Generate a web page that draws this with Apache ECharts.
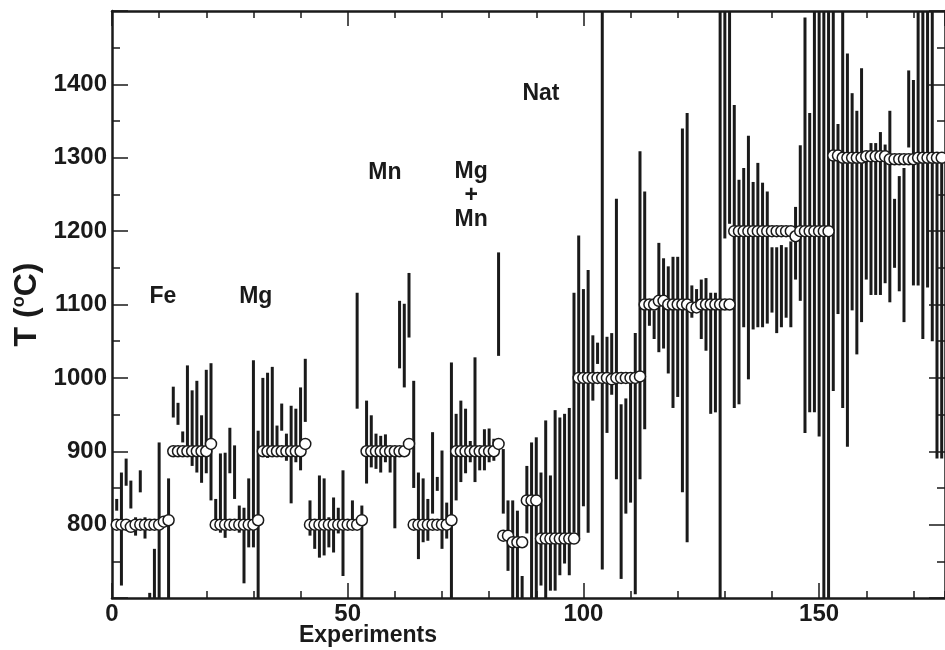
<!DOCTYPE html>
<html>
<head>
<meta charset="utf-8">
<script src="https://cdn.jsdelivr.net/npm/echarts@6/dist/echarts.min.js"></script>
<style>
  html, body { margin: 0; padding: 0; background: #fff; }
  #chart { width: 945px; height: 650px; }
</style>
</head>
<body>
<div id="chart"></div>
<script>
// experiment temperature (circles), one value per experiment 1..177
const measuredT = [
  800, 800, 800, 797, 800, 800, 800, 800, 800, 800, 804, 806,            // Fe 800
  900, 900, 900, 900, 900, 900, 900, 900, 910,                           // Fe 900
  800, 800, 800, 800, 800, 800, 800, 800, 800, 806,                      // Mg 800
  900, 900, 900, 900, 900, 900, 900, 900, 900, 910,                      // Mg 900
  800, 800, 800, 800, 800, 800, 800, 800, 800, 800, 800, 806,            // Mn 800
  900, 900, 900, 900, 900, 900, 900, 900, 900, 910,                      // Mn 900
  800, 800, 800, 800, 800, 800, 800, 800, 806,                           // Mg+Mn 800
  900, 900, 900, 900, 900, 900, 900, 900, 900, 910,                      // Mg+Mn 900
  785, 785, 776, 776, 776, 833, 833, 833,                                // Nat
  781, 781, 781, 781, 781, 781, 781, 781,
  1000, 1000, 1000, 1000, 1000, 1000, 1000, 998, 1000, 1000, 1000, 1000, 1000, 1002,
  1100, 1100, 1100, 1105, 1105, 1100, 1100, 1100, 1100, 1100,
  1096, 1096, 1100, 1100, 1100, 1100, 1100, 1100, 1100,
  1200, 1200, 1200, 1200, 1200, 1200, 1200, 1200, 1200, 1200, 1200,
  1200, 1200, 1193, 1200, 1200, 1200, 1200, 1200, 1200, 1200,
  1303, 1303, 1300, 1300, 1300, 1300, 1300, 1302, 1302, 1302, 1302, 1302,
  1298, 1298, 1298, 1298, 1298, 1298, 1300, 1300, 1300, 1300, 1300, 1300, 1300
];

// lower end of each vertical bar (null = no bar)
const lowT = [
  819, 717, 853, 822, 785, 844, 781, 690, 690, 690, null, 690,
  946, 936, 912, 894, 880, 871, 857, 870, 833,
  796, 789, 782, 870, 835, 789, 720, 769, 769, 690,
  897, 891, 898, 894, 928, 887, 829, 885, 874, 940,
  785, 767, 755, 758, 769, 762, 788, 730, null, 795, 958, 690,
  856, 878, 876, 871, 885, 871, 795, 1013, 987, 1055,
  850, 753, 776, 778, 815, 846, 767, 781, 690,
  833, 858, 870, 885, 858, 874, 874, 885, 887, 1030,
  815, 737, 690, 690, 690, 788, 690, 690,
  717, 690, 710, 710, 731, 747, 731, 789,
  778, 825, 789, 969, 1019, 739, 925, 977, 862, 726, 815, 830, 705, 862,
  930, 1071, 1053, 1035, 1040, 1006, 959, 974, 844, 776,
  1082, 1097, 1053, 1037, 951, 953, 690, 1190, 1210,
  959, 964, 1069, 998, 1066, 1069, 1069, 1074, 1089, 1061, 1069,
  1082, 1069, 1134, 1105, 925, 953, 953, 920, 690, 690,
  982, 1087, 959, 906, 1092, 1032, 1076, 1134, 1113, 1113, 1113, 1129,
  1103, 1150, 1118, 1076, 1314, 1126, 1126, 1053, 1123, 1050, 890, 890, 890
];

// upper end of each vertical bar
const highT = [
  835, 871, 890, 860, 810, 874, 810, 707, 767, 912, null, 863,
  988, 966, 927, 1017, 983, 996, 949, 1011, 1020,
  835, 897, 898, 932, 908, 826, 823, 863, 1024, 928,
  1000, 1007, 1015, 935, 965, 924, 962, 958, 987, 1026,
  833, 805, 867, 863, 810, 837, 823, 874, null, 833, 1116, 826,
  969, 949, 924, 921, 923, 905, 901, 1105, 1101, 1143,
  996, 871, 863, 835, 926, 865, 901, 830, 1021,
  951, 969, 958, 914, 1028, 901, 930, 931, 917, 1171,
  903, 833, 833, 819, 730, 880, 912, 919,
  871, 942, 867, 956, 946, 951, 959, 1116,
  1194, 1121, 1147, 1058, 1048, 1510, 1056, 1061, 1244, 964, 972, 1000, 1061, 1309,
  1254, 1097, 1092, 1184, 1163, 1152, 1165, 1165, 1340, 1361,
  1126, 1121, 1134, 1136, 1116, 1116, 1510, 1510, 1510,
  1372, 1270, 1286, 1330, 1267, 1293, 1266, 1254, 1178, 1178, 1181,
  1178, 1186, 1233, 1317, 1491, 1361, 1510, 1510, 1510, 1510,
  1510, 1346, 1510, 1442, 1388, 1364, 1422, 1306, 1320, 1320, 1335, 1318,
  1364, 1244, 1275, 1286, 1419, 1406, 1510, 1510, 1510, 1510, 1306, 1306, 1306
];

// composition labels written in the plot
const groupNames = ['Fe', 'Mg', 'Mn', 'Mg\n+\nMn', 'Nat'];
const groupX = [10.8, 30.5, 57.9, 76.2, 91];
const groupY = [1111, 1111, 1280, 1248, 1387];

const yTicks = { min: 700, max: 1500, step: 100 };
const xTicks = { min: 0, max: 176.7, step: 50, minorStep: 10 };

const FONT = '"Liberation Sans", Arial, Helvetica, sans-serif';
const INK = '#1a1a1a';

const experiments = measuredT.map((t, i) => i + 1);
const circles = experiments.map((x, i) => [x, measuredT[i]]);
const bars = experiments.map((x, i) => [x, lowT[i], highT[i]]);

const clampT = (v) => Math.max(yTicks.min, Math.min(yTicks.max, v));

const xAxisBase = {
  type: 'value',
  min: xTicks.min,
  max: xTicks.max,
  splitLine: { show: false },
  axisLine: { onZero: false, lineStyle: { color: INK, width: 2.5 } },
  axisTick: { inside: true, length: 15, lineStyle: { color: INK, width: 1.5 } },
  axisLabel: { show: false },
};

const yAxisBase = {
  type: 'value',
  min: yTicks.min,
  max: yTicks.max,
  interval: yTicks.step,
  splitLine: { show: false },
  axisLine: { onZero: false, lineStyle: { color: INK, width: 2.5 } },
  axisTick: { inside: true, length: 16, lineStyle: { color: INK, width: 1.5 } },
  minorTick: { show: true, splitNumber: 2, length: 8, lineStyle: { color: INK, width: 1.5 } },
  axisLabel: { show: false },
};

const chart = echarts.init(document.getElementById('chart'), null, { renderer: 'canvas' });

chart.setOption({
  animation: false,
  backgroundColor: '#fff',
  grid: { left: 112, right: 0, top: 11, bottom: 52 },
  xAxis: [
    Object.assign({}, xAxisBase, {
      position: 'bottom',
      interval: xTicks.step,
      axisLabel: {
        show: true, margin: 4, color: INK, fontSize: 24, fontWeight: 'bold',
        fontFamily: FONT, showMaxLabel: false, formatter: (v) => String(v),
      },
    }),
    Object.assign({}, xAxisBase, {
      position: 'bottom',
      interval: xTicks.minorStep,
      axisLine: { show: false, onZero: false },
      axisTick: { inside: true, length: 7, lineStyle: { color: INK, width: 1.5 } },
    }),
    Object.assign({}, xAxisBase, { position: 'top', interval: xTicks.step }),
    Object.assign({}, xAxisBase, {
      position: 'top',
      interval: xTicks.minorStep,
      axisLine: { show: false, onZero: false },
      axisTick: { inside: true, length: 7, lineStyle: { color: INK, width: 1.5 } },
    }),
  ],
  yAxis: [
    Object.assign({}, yAxisBase, {
      position: 'left',
      axisLabel: {
        show: true, margin: 5, color: INK, fontSize: 24, fontWeight: 'bold',
        fontFamily: FONT, showMinLabel: false, showMaxLabel: false,
        formatter: (v) => String(v),
      },
      name: '{t|T (}{s|o}{t|C)}',
      nameLocation: 'middle',
      nameGap: 66,
      nameTextStyle: {
        rich: {
          t: { fontSize: 32, fontWeight: 'bold', fontFamily: FONT, color: INK, lineHeight: 34 },
          s: { fontSize: 18, fontWeight: 'bold', fontFamily: FONT, color: INK, lineHeight: 34, verticalAlign: 'top' },
        },
      },
    }),
    Object.assign({}, yAxisBase, { position: 'right' }),
  ],
  graphic: [
    {
      type: 'text', x: 368, y: 636,
      style: {
        text: 'Experiments', fill: INK, font: 'bold 23px ' + FONT,
        align: 'center', verticalAlign: 'middle',
      },
    },
  ],
  series: [
    {
      type: 'custom',
      name: 'range',
      xAxisIndex: 0,
      yAxisIndex: 0,
      clip: true,
      data: bars,
      encode: { x: 0, y: [1, 2] },
      renderItem: function (params, api) {
        const x = api.value(0);
        const lo = api.value(1);
        const hi = api.value(2);
        if (isNaN(lo) || isNaN(hi)) return null;
        const p1 = api.coord([x, clampT(lo)]);
        const p2 = api.coord([x, clampT(hi)]);
        return {
          type: 'line',
          shape: { x1: p1[0], y1: p1[1], x2: p2[0], y2: p2[1] },
          style: { stroke: INK, lineWidth: 3 },
        };
      },
      z: 2,
    },
    {
      type: 'scatter',
      name: 'T',
      xAxisIndex: 0,
      yAxisIndex: 0,
      data: circles,
      symbol: 'circle',
      symbolSize: 11,
      itemStyle: { color: '#fff', borderColor: INK, borderWidth: 1.5, opacity: 1 },
      z: 3,
    },
    {
      type: 'scatter',
      name: 'groups',
      xAxisIndex: 0,
      yAxisIndex: 0,
      symbolSize: 0,
      itemStyle: { opacity: 1 },
      data: groupNames.map((n, i) => ({ name: n, value: [groupX[i], groupY[i]] })),
      label: {
        show: true,
        position: 'inside',
        formatter: (p) => p.name,
        color: INK,
        opacity: 1,
        fontSize: 23,
        fontWeight: 'bold',
        fontFamily: FONT,
        lineHeight: 24,
        align: 'center',
      },
      z: 4,
    },
  ],
});
</script>
</body>
</html>
